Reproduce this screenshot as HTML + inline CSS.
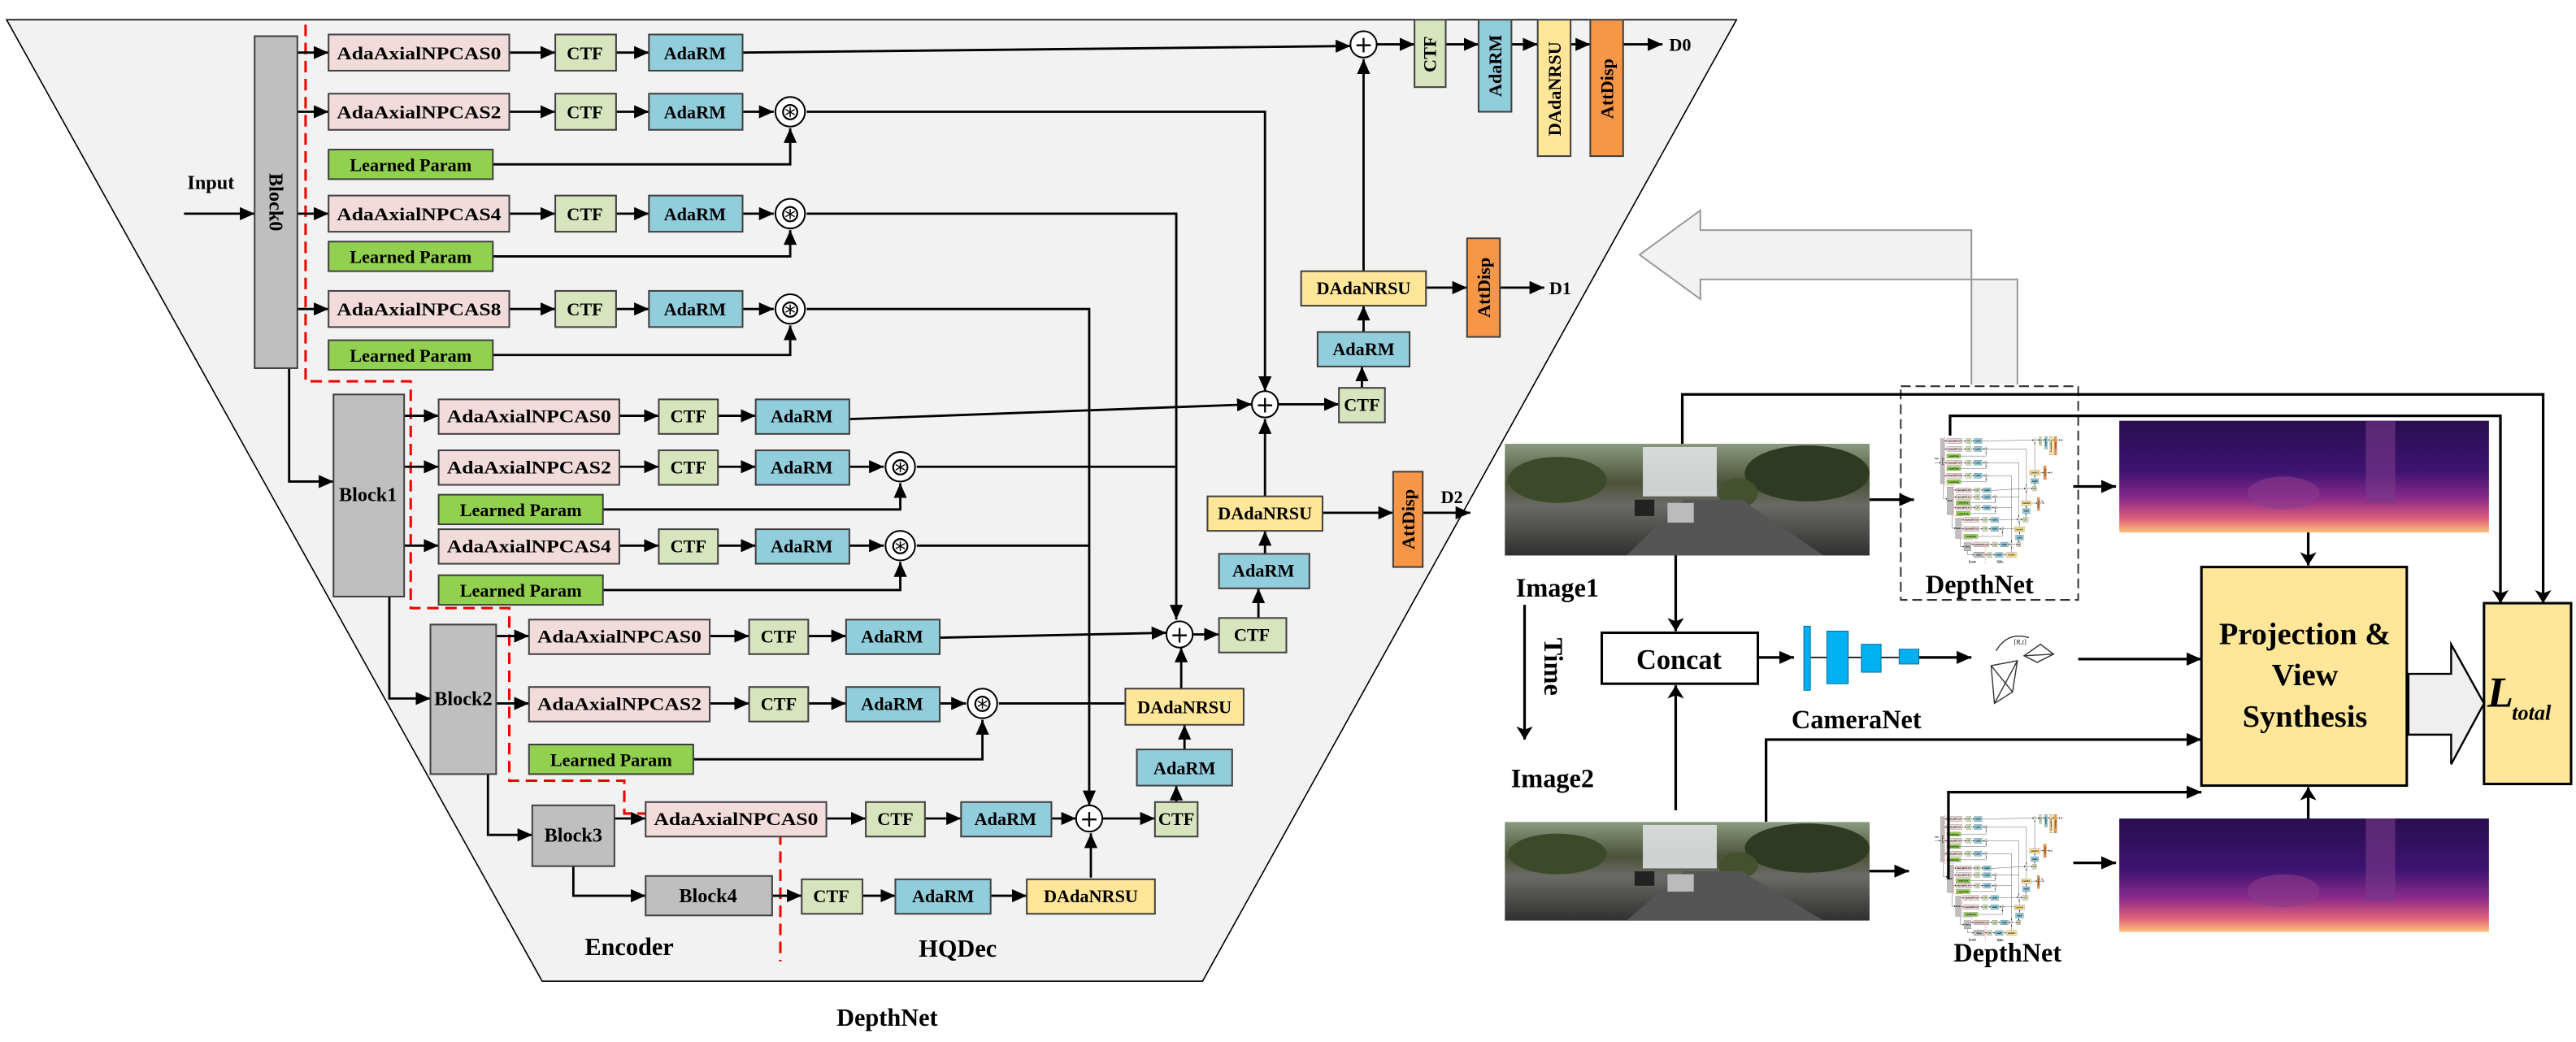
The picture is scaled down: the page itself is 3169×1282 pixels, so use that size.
<!DOCTYPE html>
<html><head><meta charset="utf-8"><style>html,body{margin:0;padding:0;background:#fff}svg{display:block}</style></head>
<body>
<svg xmlns="http://www.w3.org/2000/svg" xmlns:xlink="http://www.w3.org/1999/xlink" width="3169" height="1282" viewBox="0 0 1568 634" preserveAspectRatio="none" font-family="'Liberation Serif', serif" font-weight="bold">
<defs>
<marker id="a" markerUnits="userSpaceOnUse" markerWidth="9" markerHeight="8" refX="9" refY="4" orient="auto"><path d="M0,0 L9,4 L0,8 z" fill="#000"/></marker>
<marker id="s" markerUnits="userSpaceOnUse" markerWidth="8" markerHeight="10" refX="8" refY="5" orient="auto"><path d="M0,0 L8,5 L0,10 L2,5 z" fill="#000"/></marker>
<linearGradient id="dm" x1="0" y1="0" x2="0" y2="1"><stop offset="0" stop-color="#2a0e4f"/><stop offset="0.45" stop-color="#3d1370"/><stop offset="0.7" stop-color="#8a2a8a"/><stop offset="0.88" stop-color="#e0607a"/><stop offset="1" stop-color="#fbc27a"/></linearGradient>
<linearGradient id="ph" x1="0" y1="0" x2="0" y2="1"><stop offset="0" stop-color="#8a9a80"/><stop offset="0.35" stop-color="#4c5238"/><stop offset="0.55" stop-color="#6a6a66"/><stop offset="1" stop-color="#303030"/></linearGradient>
</defs>

<polygon points="4,12 1057,12 732,597 330,597" fill="#f2f2f2" stroke="#000" stroke-width="0.8"/>

<g id="dn">
<path d="M186,15 V232 H250 V370 H310 V475 H380 V495 H475 V585" fill="none" stroke="#e00" stroke-width="1.5" stroke-dasharray="7,4"/>

<g stroke="#000" stroke-width="1.4" fill="none">
<line x1="112" y1="130" x2="155" y2="130" marker-end="url(#a)"/>
<line x1="181" y1="32" x2="200" y2="32" marker-end="url(#a)"/>
<line x1="181" y1="68" x2="200" y2="68" marker-end="url(#a)"/>
<line x1="181" y1="130" x2="200" y2="130" marker-end="url(#a)"/>
<line x1="181" y1="188" x2="200" y2="188" marker-end="url(#a)"/>
<line x1="310" y1="32" x2="338" y2="32" marker-end="url(#a)"/><line x1="375" y1="32" x2="395" y2="32" marker-end="url(#a)"/>
<line x1="310" y1="68" x2="338" y2="68" marker-end="url(#a)"/><line x1="375" y1="68" x2="395" y2="68" marker-end="url(#a)"/>
<line x1="310" y1="130" x2="338" y2="130" marker-end="url(#a)"/><line x1="375" y1="130" x2="395" y2="130" marker-end="url(#a)"/>
<line x1="310" y1="188" x2="338" y2="188" marker-end="url(#a)"/><line x1="375" y1="188" x2="395" y2="188" marker-end="url(#a)"/>
<line x1="452" y1="68" x2="471" y2="68" marker-end="url(#a)"/>
<line x1="452" y1="130" x2="471" y2="130" marker-end="url(#a)"/>
<line x1="452" y1="188" x2="471" y2="188" marker-end="url(#a)"/>
<polyline points="452,32 822,28" marker-end="url(#a)"/>
<polyline points="491,68 770,68 770,238" marker-end="url(#a)"/>
<polyline points="300,100 481,100 481,78" marker-end="url(#a)"/>
<polyline points="491,130 716,130 716,377" marker-end="url(#a)"/>
<polyline points="300,156 481,156 481,140" marker-end="url(#a)"/>
<polyline points="491,188 663,188 663,490" marker-end="url(#a)"/>
<polyline points="300,216 481,216 481,198" marker-end="url(#a)"/>
<polyline points="176,224 176,293 203,293" marker-end="url(#a)"/>
<polyline points="237,363 237,425 262,425" marker-end="url(#a)"/>
<polyline points="297,471 297,508 324,508" marker-end="url(#a)"/>
<polyline points="349,527 349,545 393,545" marker-end="url(#a)"/>
<line x1="246" y1="253" x2="267" y2="253" marker-end="url(#a)"/>
<line x1="246" y1="284" x2="267" y2="284" marker-end="url(#a)"/>
<line x1="246" y1="332" x2="267" y2="332" marker-end="url(#a)"/>
<line x1="377" y1="253" x2="401" y2="253" marker-end="url(#a)"/><line x1="437" y1="253" x2="460" y2="253" marker-end="url(#a)"/>
<line x1="377" y1="284" x2="401" y2="284" marker-end="url(#a)"/><line x1="437" y1="284" x2="460" y2="284" marker-end="url(#a)"/>
<line x1="377" y1="332" x2="401" y2="332" marker-end="url(#a)"/><line x1="437" y1="332" x2="460" y2="332" marker-end="url(#a)"/>
<line x1="517" y1="284" x2="538" y2="284" marker-end="url(#a)"/>
<line x1="517" y1="332" x2="538" y2="332" marker-end="url(#a)"/>
<polyline points="517,255 762,246" marker-end="url(#a)"/>
<polyline points="558,284 716,284"/>
<polyline points="367,310 548,310 548,294" marker-end="url(#a)"/>
<polyline points="558,332 663,332"/>
<polyline points="367,359 548,359 548,342" marker-end="url(#a)"/>
<line x1="302" y1="387" x2="322" y2="387" marker-end="url(#a)"/>
<line x1="302" y1="428" x2="322" y2="428" marker-end="url(#a)"/>
<line x1="432" y1="387" x2="456" y2="387" marker-end="url(#a)"/><line x1="492" y1="387" x2="515" y2="387" marker-end="url(#a)"/>
<line x1="432" y1="428" x2="456" y2="428" marker-end="url(#a)"/><line x1="492" y1="428" x2="515" y2="428" marker-end="url(#a)"/>
<line x1="572" y1="428" x2="588" y2="428" marker-end="url(#a)"/>
<polyline points="572,388 710,385" marker-end="url(#a)"/>
<polyline points="608,428 716,428"/>
<polyline points="422,462 598,462 598,438" marker-end="url(#a)"/>
<line x1="374" y1="498" x2="393" y2="498" marker-end="url(#a)"/>
<line x1="503" y1="498" x2="527" y2="498" marker-end="url(#a)"/><line x1="563" y1="498" x2="585" y2="498" marker-end="url(#a)"/>
<line x1="640" y1="498" x2="655" y2="498" marker-end="url(#a)"/>
<line x1="470" y1="545" x2="488" y2="545" marker-end="url(#a)"/><line x1="525" y1="545" x2="545" y2="545" marker-end="url(#a)"/><line x1="603" y1="545" x2="625" y2="545" marker-end="url(#a)"/>
<line x1="664" y1="534" x2="664" y2="507" marker-end="url(#a)"/>
<line x1="671" y1="498" x2="703" y2="498" marker-end="url(#a)"/>
<line x1="716" y1="488" x2="716" y2="478" marker-end="url(#a)"/>
<line x1="721" y1="456" x2="721" y2="441" marker-end="url(#a)"/>
<line x1="719" y1="419" x2="719" y2="394" marker-end="url(#a)"/>
<line x1="726" y1="386" x2="742" y2="386" marker-end="url(#a)"/>
<line x1="766" y1="376" x2="766" y2="358" marker-end="url(#a)"/>
<line x1="770" y1="337" x2="770" y2="323" marker-end="url(#a)"/>
<line x1="805" y1="312" x2="848" y2="312" marker-end="url(#a)"/>
<line x1="866" y1="312" x2="895" y2="312" marker-end="url(#a)"/>
<line x1="770" y1="302" x2="770" y2="255" marker-end="url(#a)"/>
<line x1="778" y1="246" x2="815" y2="246" marker-end="url(#a)"/>
<line x1="829" y1="236" x2="829" y2="223" marker-end="url(#a)"/>
<line x1="830" y1="202" x2="830" y2="186" marker-end="url(#a)"/>
<line x1="868" y1="175" x2="893" y2="175" marker-end="url(#a)"/>
<line x1="913" y1="175" x2="940" y2="175" marker-end="url(#a)"/>
<line x1="830" y1="165" x2="830" y2="36" marker-end="url(#a)"/>
<line x1="838" y1="27" x2="861" y2="27" marker-end="url(#a)"/>
<line x1="880" y1="27" x2="900" y2="27" marker-end="url(#a)"/>
<line x1="920" y1="27" x2="936" y2="27" marker-end="url(#a)"/>
<line x1="956" y1="27" x2="968" y2="27" marker-end="url(#a)"/>
<line x1="988" y1="27" x2="1012" y2="27" marker-end="url(#a)"/>
</g>

<g stroke="#404040" stroke-width="1">
<rect x="155" y="22" width="26" height="202" fill="#bfbfbf"/>
<rect x="203" y="240" width="43" height="123" fill="#bfbfbf"/>
<rect x="262" y="380" width="40" height="91" fill="#bfbfbf"/>
<rect x="324" y="490" width="50" height="37" fill="#bfbfbf"/>
<rect x="393" y="533" width="77" height="24" fill="#bfbfbf"/>
<g fill="#f2dcdb"><rect x="200" y="21" width="110" height="22"/><rect x="200" y="57" width="110" height="22"/><rect x="200" y="119" width="110" height="22"/><rect x="200" y="177" width="110" height="22"/>
<rect x="267" y="243" width="110" height="21"/><rect x="267" y="274" width="110" height="21"/><rect x="267" y="322" width="110" height="21"/>
<rect x="322" y="377" width="110" height="21"/><rect x="322" y="418" width="110" height="21"/><rect x="393" y="488" width="110" height="21"/></g>
<g fill="#d7e4bd"><rect x="338" y="21" width="37" height="22"/><rect x="338" y="57" width="37" height="22"/><rect x="338" y="119" width="37" height="22"/><rect x="338" y="177" width="37" height="22"/>
<rect x="401" y="243" width="36" height="21"/><rect x="401" y="274" width="36" height="21"/><rect x="401" y="322" width="36" height="21"/>
<rect x="456" y="377" width="36" height="21"/><rect x="456" y="418" width="36" height="21"/><rect x="527" y="488" width="36" height="21"/><rect x="488" y="535" width="37" height="21"/>
<rect x="703" y="488" width="26" height="21"/><rect x="742" y="376" width="41" height="21"/><rect x="815" y="236" width="28" height="21"/><rect x="861" y="12" width="19" height="41"/></g>
<g fill="#92cddc"><rect x="395" y="21" width="57" height="22"/><rect x="395" y="57" width="57" height="22"/><rect x="395" y="119" width="57" height="22"/><rect x="395" y="177" width="57" height="22"/>
<rect x="460" y="243" width="57" height="21"/><rect x="460" y="274" width="57" height="21"/><rect x="460" y="322" width="57" height="21"/>
<rect x="515" y="377" width="57" height="21"/><rect x="515" y="418" width="57" height="21"/><rect x="585" y="488" width="55" height="21"/><rect x="545" y="535" width="58" height="21"/>
<rect x="692" y="456" width="58" height="22"/><rect x="742" y="337" width="55" height="21"/><rect x="802" y="202" width="56" height="21"/><rect x="900" y="12" width="20" height="56"/></g>
<g fill="#ffe699"><rect x="625" y="535" width="78" height="21"/><rect x="685" y="419" width="72" height="22"/><rect x="735" y="302" width="70" height="21"/><rect x="792" y="165" width="76" height="21"/><rect x="936" y="12" width="20" height="83"/></g>
<g fill="#f79646"><rect x="848" y="287" width="18" height="58"/><rect x="893" y="145" width="20" height="60"/><rect x="968" y="12" width="20" height="83"/></g>
<g fill="#92d050"><rect x="200" y="91" width="100" height="18"/><rect x="200" y="147" width="100" height="18"/><rect x="200" y="207" width="100" height="18"/>
<rect x="267" y="301" width="100" height="18"/><rect x="267" y="350" width="100" height="18"/><rect x="322" y="453" width="100" height="18"/></g>
</g>

<g fill="#fff" stroke="#000" stroke-width="1">
<circle cx="481" cy="68" r="9"/><circle cx="481" cy="130" r="9"/><circle cx="481" cy="188" r="9"/>
<circle cx="548" cy="284" r="9"/><circle cx="548" cy="332" r="9"/><circle cx="598" cy="428" r="9"/>
<circle cx="830" cy="27" r="8"/><circle cx="770" cy="246" r="8"/><circle cx="718" cy="386" r="8"/><circle cx="663" cy="498" r="8"/>
</g>
<g font-size="15" text-anchor="middle" font-weight="normal" font-family="'DejaVu Sans',sans-serif">
<text x="481" y="73">⊛</text><text x="481" y="135">⊛</text><text x="481" y="193">⊛</text><text x="548" y="289">⊛</text><text x="548" y="337">⊛</text><text x="598" y="433">⊛</text>
</g>
<g font-size="14" text-anchor="middle" font-weight="normal" font-family="'DejaVu Sans',sans-serif">
<text x="830" y="32">+</text><text x="770" y="251">+</text><text x="718" y="391">+</text><text x="663" y="503">+</text>
</g>

<g font-size="11" text-anchor="middle">
<text x="255" y="36" textLength="100" lengthAdjust="spacingAndGlyphs">AdaAxialNPCAS0</text>
<text x="255" y="72" textLength="100" lengthAdjust="spacingAndGlyphs">AdaAxialNPCAS2</text>
<text x="255" y="134" textLength="100" lengthAdjust="spacingAndGlyphs">AdaAxialNPCAS4</text>
<text x="255" y="192" textLength="100" lengthAdjust="spacingAndGlyphs">AdaAxialNPCAS8</text>
<text x="322" y="257" textLength="100" lengthAdjust="spacingAndGlyphs">AdaAxialNPCAS0</text>
<text x="322" y="288" textLength="100" lengthAdjust="spacingAndGlyphs">AdaAxialNPCAS2</text>
<text x="322" y="336" textLength="100" lengthAdjust="spacingAndGlyphs">AdaAxialNPCAS4</text>
<text x="377" y="391" textLength="100" lengthAdjust="spacingAndGlyphs">AdaAxialNPCAS0</text>
<text x="377" y="432" textLength="100" lengthAdjust="spacingAndGlyphs">AdaAxialNPCAS2</text>
<text x="448" y="502" textLength="100" lengthAdjust="spacingAndGlyphs">AdaAxialNPCAS0</text>
<text x="356" y="36">CTF</text><text x="356" y="72">CTF</text><text x="356" y="134">CTF</text><text x="356" y="192">CTF</text>
<text x="419" y="257">CTF</text><text x="419" y="288">CTF</text><text x="419" y="336">CTF</text>
<text x="474" y="391">CTF</text><text x="474" y="432">CTF</text><text x="545" y="502">CTF</text><text x="506" y="549">CTF</text>
<text x="716" y="502">CTF</text><text x="762" y="390">CTF</text><text x="829" y="250">CTF</text>
<text x="423" y="36">AdaRM</text><text x="423" y="72">AdaRM</text><text x="423" y="134">AdaRM</text><text x="423" y="192">AdaRM</text>
<text x="488" y="257">AdaRM</text><text x="488" y="288">AdaRM</text><text x="488" y="336">AdaRM</text>
<text x="543" y="391">AdaRM</text><text x="543" y="432">AdaRM</text><text x="612" y="502">AdaRM</text><text x="574" y="549">AdaRM</text>
<text x="721" y="471">AdaRM</text><text x="769" y="351">AdaRM</text><text x="830" y="216">AdaRM</text>
<text x="664" y="549">DAdaNRSU</text><text x="721" y="434">DAdaNRSU</text><text x="770" y="316">DAdaNRSU</text><text x="830" y="179">DAdaNRSU</text>
<text x="250" y="104">Learned Param</text><text x="250" y="160">Learned Param</text><text x="250" y="220">Learned Param</text>
<text x="317" y="314">Learned Param</text><text x="317" y="363">Learned Param</text><text x="372" y="466">Learned Param</text>
<text x="224" y="305" font-size="12">Block1</text><text x="282" y="429" font-size="12">Block2</text><text x="349" y="512" font-size="12">Block3</text><text x="431" y="549" font-size="12">Block4</text>
<text transform="translate(164,123) rotate(90)" font-size="12">Block0</text>
<text transform="translate(874,33) rotate(-90)">CTF</text>
<text transform="translate(914,40) rotate(-90)">AdaRM</text>
<text transform="translate(950,54) rotate(-90)">DAdaNRSU</text>
<text transform="translate(982,54) rotate(-90)">AttDisp</text>
<text transform="translate(907,175) rotate(-90)">AttDisp</text>
<text transform="translate(861,316) rotate(-90)">AttDisp</text>
</g>
<g font-size="11">
<text x="1016" y="31">D0</text><text x="943" y="179">D1</text><text x="877" y="306">D2</text>
<text x="114" y="115" font-size="12">Input</text>
</g>
<g font-size="15" text-anchor="middle"><text x="383" y="581">Encoder</text><text x="583" y="582">HQDec</text></g>
</g>
<text x="540" y="624" font-size="15" text-anchor="middle">DepthNet</text>

<path d="M1228,234 V170 H1035 V182 L998,155 L1035,128 V140 H1200 V234" fill="#f2f2f2" stroke="#999" stroke-width="1"/>

<rect x="1157" y="235" width="108" height="130" fill="none" stroke="#333" stroke-dasharray="6,3" stroke-width="1"/>
<g id="photo">
<rect x="916" y="270" width="222" height="68" fill="url(#ph)"/>
<rect x="1000" y="272" width="45" height="30" fill="#e4e8ea" opacity="0.85"/>
<ellipse cx="948" cy="292" rx="30" ry="14" fill="#3c4a2a"/>
<ellipse cx="1100" cy="288" rx="38" ry="17" fill="#2f3a22"/>
<ellipse cx="1058" cy="300" rx="12" ry="9" fill="#44502e"/>
<polygon points="990,338 1025,304 1060,304 1110,338" fill="#555"/>
<rect x="1015" y="306" width="16" height="12" fill="#bbb"/>
<rect x="995" y="304" width="12" height="10" fill="#222"/>
</g>
<use xlink:href="#photo" transform="translate(0,262) scale(1,0.882)" />
<rect x="1290" y="256" width="225" height="68" fill="url(#dm)"/>
<rect x="1290" y="498" width="225" height="69" fill="url(#dm)"/>
<rect x="1440" y="256" width="18" height="50" fill="#7a3a8a" opacity="0.6"/>
<rect x="1440" y="498" width="18" height="50" fill="#7a3a8a" opacity="0.6"/>
<ellipse cx="1390" cy="300" rx="22" ry="10" fill="#8a3a8a" opacity="0.6"/>
<ellipse cx="1390" cy="542" rx="22" ry="10" fill="#8a3a8a" opacity="0.6"/>
<use xlink:href="#dn" transform="translate(1168,264) scale(0.085,0.135)"/>
<use xlink:href="#dn" transform="translate(1168,494) scale(0.085,0.135)"/>

<g stroke="#000" stroke-width="1.6" fill="none">
<polyline points="1024,270 1024,240 1548,240 1548,367" marker-end="url(#s)"/>
<polyline points="1187,265 1187,253 1522,253 1522,367" marker-end="url(#s)"/>
<line x1="1138" y1="304" x2="1165" y2="304" marker-end="url(#a)"/>
<line x1="1262" y1="296" x2="1288" y2="296" marker-end="url(#a)"/>
<line x1="1405" y1="324" x2="1405" y2="344" marker-end="url(#s)"/>
<line x1="1020" y1="338" x2="1020" y2="384" marker-end="url(#s)"/>
<line x1="1020" y1="493" x2="1020" y2="417" marker-end="url(#s)"/>
<line x1="928" y1="368" x2="928" y2="450" marker-end="url(#s)"/>
<line x1="1070" y1="400" x2="1092" y2="400" marker-end="url(#a)"/>
<line x1="1168" y1="400" x2="1200" y2="400" marker-end="url(#a)"/>
<line x1="1265" y1="401" x2="1340" y2="401" marker-end="url(#a)"/>
<polyline points="1075,500 1075,450 1340,450" marker-end="url(#a)"/>
<polyline points="1186,535 1186,482 1340,482" marker-end="url(#a)"/>
<line x1="1138" y1="530" x2="1162" y2="530" marker-end="url(#a)"/>
<line x1="1262" y1="525" x2="1288" y2="525" marker-end="url(#a)"/>
<line x1="1405" y1="498" x2="1405" y2="479" marker-end="url(#s)"/>
</g>
<g stroke="#000" stroke-width="0.8">
<line x1="1102" y1="400" x2="1112" y2="400"/><line x1="1125" y1="400" x2="1133" y2="400"/><line x1="1145" y1="400" x2="1156" y2="400"/>
</g>
<g fill="#00b0f0" stroke="#0070a0" stroke-width="0.5">
<rect x="1098" y="381" width="4" height="39"/><rect x="1112" y="384" width="13" height="32"/><rect x="1133" y="392" width="12" height="17"/><rect x="1156" y="395" width="12" height="9"/>
</g>
<g stroke="#333" stroke-width="0.7" fill="none">
<polygon points="1212,405 1228,402 1225,421 1214,428"/><line x1="1212" y1="405" x2="1225" y2="421"/><line x1="1228" y1="402" x2="1214" y2="428"/>
<polygon points="1232,399 1242,392 1250,398 1240,403"/><line x1="1232" y1="399" x2="1250" y2="398"/>
<path d="M1215,396 Q1222,384 1235,388"/>
</g>
<text x="1226" y="392" font-size="4" font-weight="normal">[R,t]</text>
<rect x="975" y="385" width="95" height="31" fill="#fff" stroke="#000" stroke-width="1.5"/>
<rect x="1340" y="345" width="125" height="133" fill="#ffe699" stroke="#000" stroke-width="1.5"/>
<rect x="1512" y="367" width="53" height="110" fill="#ffe699" stroke="#000" stroke-width="1.5"/>
<path d="M1466,410 H1492 V392 L1512,428 L1492,465 V447 H1466 Z" fill="#efefef" stroke="#000" stroke-width="1.2"/>
<g text-anchor="middle">
<text x="1022" y="407" font-size="17">Concat</text>
<text x="1130" y="443" font-size="16">CameraNet</text>
<text x="1205" y="361" font-size="16">DepthNet</text>
<text x="1222" y="585" font-size="16">DepthNet</text>
<text x="1403" y="392" font-size="19">Projection &amp;</text>
<text x="1403" y="417" font-size="19">View</text>
<text x="1403" y="442" font-size="19">Synthesis</text>
<text x="948" y="363" font-size="16">Image1</text>
<text x="945" y="479" font-size="16">Image2</text>
</g>
<text transform="translate(940,388) rotate(90)" font-size="16">Time</text>
<text x="1514" y="430" font-size="26" font-style="italic">L</text>
<text x="1529" y="438" font-size="13" font-style="italic">total</text>
</svg>
</body></html>
